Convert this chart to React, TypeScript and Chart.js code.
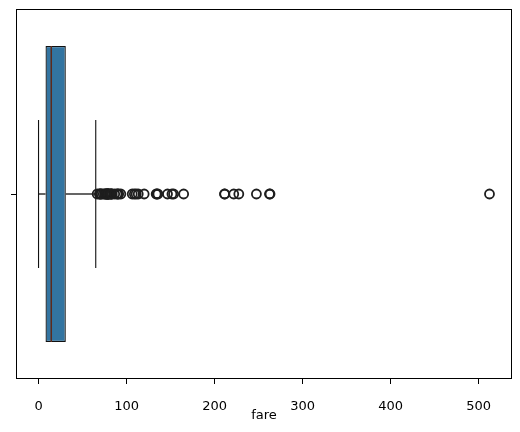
import React, { useEffect, useRef } from "react";
import { Chart, registerables } from "chart.js";

Chart.register(...registerables);

// Box-plot summary of "fare"
const Q1 = 7.9104;
const MEDIAN = 14.4542;
const Q3 = 31.0;
const WHISKER_LOW = 0;
const WHISKER_HIGH = 65.0;
const OUTLIERS = [
  66.6, 69.3, 69.55, 71.0, 71.2833, 73.5, 75.25, 76.2917, 76.7292, 77.2875,
  77.9583, 78.2667, 78.85, 79.2, 79.65, 80.0, 81.8583, 82.1708, 83.1583,
  83.475, 86.5, 89.1042, 90.0, 91.0792, 93.5, 106.425, 108.9, 110.8833,
  113.275, 120.0, 133.65, 134.5, 135.6333, 146.5208, 151.55, 153.4625,
  164.8667, 211.3375, 211.5, 221.7792, 227.525, 247.5208, 262.375, 263.0,
  512.3292,
];
const X_TICKS = [0, 100, 200, 300, 400, 500];
const X_MIN = -25.6;
const X_MAX = 537.9;
const X_LABEL = "fare";

const BOX_COLOR = "#3274a1";
const LINE_COLOR = "#111111";
const MEDIAN_COLOR = "#5d2a1c";

const framePlugin = {
  id: "frame",
  afterDatasetsDraw(chart: any) {
    const { ctx, chartArea } = chart;
    ctx.save();
    ctx.strokeStyle = "#000";
    ctx.lineWidth = 1;
    ctx.strokeRect(
      Math.round(chartArea.left) + 0.5,
      Math.round(chartArea.top) + 0.5,
      Math.round(chartArea.right - chartArea.left) - 1,
      Math.round(chartArea.bottom - chartArea.top) - 1
    );
    ctx.restore();
  },
};

export default function App() {
  const ref = useRef<HTMLCanvasElement | null>(null);

  useEffect(() => {
    document.body.style.margin = "0";
    const canvas = ref.current;
    if (!canvas) return;

    const lineDs = (pts: { x: number; y: number }[], color: string, width: number, order: number) => ({
      type: "scatter" as const,
      data: pts,
      showLine: true,
      borderColor: color,
      borderWidth: width,
      pointRadius: 0,
      pointHoverRadius: 0,
      order,
    });

    const chart = new Chart(canvas, {
      type: "scatter",
      data: {
        datasets: [
          {
            type: "scatter",
            data: OUTLIERS.map((v) => ({ x: v, y: 0 })),
            pointRadius: 4.5,
            pointBorderWidth: 1.8,
            pointBorderColor: "#1e1e1e",
            pointBackgroundColor: "rgba(0,0,0,0)",
            showLine: false,
            order: 0,
          } as any,
          lineDs([{ x: MEDIAN, y: -0.4 }, { x: MEDIAN, y: 0.4 }], MEDIAN_COLOR, 1.5, 1),
          lineDs([{ x: WHISKER_LOW, y: 0 }, { x: Q1, y: 0 }], LINE_COLOR, 1.3, 2),
          lineDs([{ x: Q3, y: 0 }, { x: WHISKER_HIGH, y: 0 }], LINE_COLOR, 1.3, 2),
          lineDs([{ x: WHISKER_LOW, y: -0.2 }, { x: WHISKER_LOW, y: 0.2 }], LINE_COLOR, 1.1, 2),
          lineDs([{ x: WHISKER_HIGH, y: -0.2 }, { x: WHISKER_HIGH, y: 0.2 }], LINE_COLOR, 1.1, 2),
          {
            type: "bar",
            indexAxis: "y",
            data: [{ x: [Q1, Q3], y: 0 }],
            backgroundColor: BOX_COLOR,
            borderColor: LINE_COLOR,
            borderWidth: 1.3,
            borderSkipped: false,
            categoryPercentage: 1,
            barPercentage: 0.8,
            order: 5,
          } as any,
        ],
      },
      options: {
        responsive: false,
        animation: false,
        layout: { padding: { top: 9, right: 8, left: 0, bottom: 9 } },
        plugins: {
          legend: { display: false },
          tooltip: { enabled: false },
        },
        scales: {
          x: {
            type: "linear",
            min: X_MIN,
            max: X_MAX,
            offset: false,
            beginAtZero: false,
            afterBuildTicks: (s: any) => {
              s.ticks = X_TICKS.map((v) => ({ value: v }));
            },
            afterFit: (s: any) => {
              s.height = 44;
            },
            border: { display: false },
            grid: {
              offset: false,
              drawOnChartArea: false,
              drawTicks: true,
              tickLength: 5,
              color: "#000",
              tickColor: "#000",
            },
            ticks: {
              color: "#000",
              padding: 15,
              font: { family: "DejaVu Sans", size: 13 },
              maxRotation: 0,
            },
            title: {
              display: true,
              text: X_LABEL,
              color: "#000",
              font: { family: "DejaVu Sans", size: 13 },
              padding: { top: 0, bottom: 0 },
            },
          },
          y: {
            type: "linear",
            min: -0.5,
            max: 0.5,
            offset: false,
            reverse: true,
            afterBuildTicks: (s: any) => {
              s.ticks = [{ value: 0 }];
            },
            afterFit: (s: any) => {
              s.width = 16;
            },
            border: { display: false },
            grid: {
              offset: false,
              drawOnChartArea: false,
              drawTicks: true,
              tickLength: 5,
              tickColor: "#000",
            },
            ticks: {
              callback: () => "",
              padding: 0,
            },
          },
        },
      } as any,
      plugins: [framePlugin],
    });

    return () => chart.destroy();
  }, []);

  return <canvas ref={ref} width={520} height={432} style={{ display: "block" }} />;
}
